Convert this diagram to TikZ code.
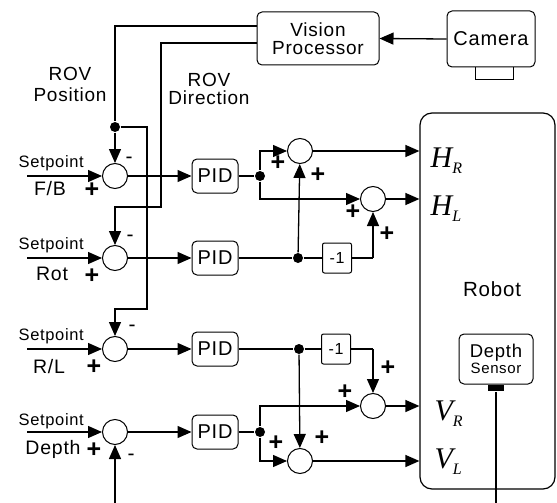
\documentclass[tikz,border=0pt]{standalone}
\usepackage{fontspec}
\setmainfont{Liberation Sans}[LetterSpace=4]
\newfontfamily\seriff{Liberation Serif}
\newfontfamily\signfont{Liberation Sans}
\usetikzlibrary{arrows.meta,calc}
\begin{document}
\begin{tikzpicture}[x=1pt,y=-1pt, line width=1.3pt,
  arr/.style={-{Triangle[length=14pt,width=12pt]}},
  sumc/.style={circle, draw, line width=1pt, minimum size=25pt, inner sep=0pt},
  rbox/.style={draw, rounded corners=5pt, line width=1pt, inner sep=0pt, align=center, font=\fontsize{19}{18}\selectfont},
  pidbox/.style={rbox, minimum width=46pt, minimum height=34pt, font=\fontsize{20}{20}\selectfont},
  dotn/.style={circle, fill, inner sep=0pt, minimum size=10pt},
  negbox/.style={draw, rounded corners=2pt, minimum width=29pt, minimum height=30pt, inner sep=0pt, line width=1pt, font=\fontsize{16}{16}\selectfont},
  sgn/.style={font=\signfont\bfseries\fontsize{25}{25}\selectfont, inner sep=0pt},
  msgn/.style={font=\signfont\fontsize{21}{21}\selectfont, inner sep=0pt},
  lbl/.style={font=\fontsize{19}{21}\selectfont, inner sep=0pt, align=center},
  sp/.style={font=\fontsize{16.5}{17}\selectfont, inner sep=0pt, anchor=base west},
  sub/.style={font=\fontsize{19.5}{20}\selectfont, inner sep=0pt, anchor=base},
  mlbl/.style={font=\seriff\itshape\fontsize{30}{30}\selectfont, inner sep=0pt, anchor=base west}
]
\useasboundingbox (0,0) rectangle (557,503);

% top blocks
\node[rbox, minimum width=122pt, minimum height=53pt] (vp) at (318,38.5) {Vision\\Processor};
\node[rbox, minimum width=88pt, minimum height=56pt, font=\fontsize{20}{20}\selectfont] (cam) at (491,39) {Camera};
\draw[line width=1pt] (475,67) -- (475,80) -- (513,80) -- (513,67);
\draw[arr] (cam.west) -- (vp.east);

% robot
\node[draw, rounded corners=12pt, line width=1.2pt, minimum width=135pt, minimum height=376pt, inner sep=0pt] (robot) at (487.5,301) {};
\node[lbl, font=\fontsize{20.5}{21}\selectfont] (robotlbl) at (492,289) {Robot};
\node[rbox, minimum width=74pt, minimum height=50pt, font=\fontsize{18.5}{16}\selectfont] (ds) at (496,359) {Depth\\{\fontsize{15}{15}\selectfont Sensor}};
\node[fill, minimum width=16pt, minimum height=6pt, inner sep=0pt, anchor=north] (dsc) at (ds.south) {};
\coordinate (dsend) at (496,503);
\draw (dsc.south) -- (dsend);

% summers
\node[sumc] (sum1) at (115,176) {};
\node[sumc] (sum2) at (115,258) {};
\node[sumc] (sum3) at (115,349) {};
\node[sumc] (sum4) at (115,432) {};

% PIDs
\node[pidbox] (pid1) at (215,176) {PID};
\node[pidbox] (pid2) at (215,258) {PID};
\node[pidbox] (pid3) at (215,349) {PID};
\node[pidbox] (pid4) at (215,432) {PID};

\foreach \i in {1,2,3,4} {\draw[arr] (sum\i) -- (pid\i);}

% setpoint inputs
\coordinate (in1) at (27,176);
\coordinate (in2) at (27,258);
\coordinate (in3) at (27,349);
\coordinate (in4) at (27,432);
\foreach \i in {1,2,3,4} {\draw[arr] (in\i) -- (sum\i);}
\node[sp] (sp1) at (18,167) {Setpoint};
\node[sp] (sp2) at (18,249) {Setpoint};
\node[sp] (sp3) at (18,340) {Setpoint};
\node[sp] (sp4) at (18,425) {Setpoint};
\node[sub] (n1) at (50,195) {F/B};
\node[sub] (n2) at (52,280) {Rot};
\node[sub] (n3) at (49,373) {R/L};
\node[sub] (n4) at (53,454) {Depth};

% feedback
\node[dotn] (p1) at (115,127) {};
\coordinate (c1) at (147,309);
\coordinate (c2) at (161,207);
\coordinate (fb4) at (115,503);
\draw ($(vp.west)+(0,-12.5)$) -| (p1);
\draw[arr] (p1) -- (sum1);
\draw[arr] (p1) -| (c1) -| (sum3);
\draw[arr] ($(vp.west)+(0,4.5)$) -| (c2) -| (sum2);
\draw[arr] (fb4) -- (sum4);
\node[lbl] (rovp) at (70,84) {ROV\\Position};
\node[lbl, font=\fontsize{19}{18}\selectfont] (rovd) at (209,89) {ROV\\Direction};

% signs left
\node[sgn] (a1) at (92,190) {+};
\node[sgn] (a2) at (92,276) {+};
\node[sgn] (a3) at (94,367) {+};
\node[sgn] (a4) at (94,450) {+};
\node[msgn] (b1) at (129,160) {-};
\node[msgn] (b2) at (130,238) {-};
\node[msgn] (b3) at (132,328) {-};
\node[msgn] (b4) at (131,457) {-};

% right summers
\node[sumc] (shr) at (300,151) {};
\node[sumc] (shl) at (373,199) {};
\node[sumc] (svr) at (373,406) {};
\node[sumc] (svl) at (300,461) {};

% dots and -1
\node[dotn] (d1) at (260,176) {};
\node[dotn] (d2) at (298,258) {};
\node[dotn] (d3) at (299,349) {};
\node[dotn] (d4) at (260,432) {};
\node[negbox] (g1) at (337,258) {-1};
\node[negbox] (g2) at (336,349) {-1};
\coordinate (k1) at (373,258);
\coordinate (k2) at (373,349);

\draw (pid1) -- (d1);
\draw (pid2) -- (d2);
\draw (pid3) -- (d3);
\draw (pid4) -- (d4);
\draw[arr] (d1) |- (shr);
\draw[arr] (d1) |- (shl);
\draw[arr] (d2) -- (shr);
\draw (d2) -- (g1);
\draw (g1) -- (k1);
\draw[arr] (k1) -- (shl);
\draw[arr] (d3) -- (svl);
\draw (d3) -- (g2);
\draw (g2) -- (k2);
\draw[arr] (k2) -- (svr);
\draw[arr] (d4) |- (svr);
\draw[arr] (d4) |- (svl);

% outputs
\draw[arr] (shr) -- (shr -| robot.west);
\draw[arr] (shl) -- (shl -| robot.west);
\draw[arr] (svr) -- (svr -| robot.west);
\draw[arr] (svl) -- (svl -| robot.west);

% signs right
\node[sgn] (e1) at (278,163) {+};
\node[sgn] (e2) at (318,175) {+};
\node[sgn] (e3) at (353,212) {+};
\node[sgn] (e4) at (387,234) {+};
\node[sgn] (e5) at (388,368) {+};
\node[sgn] (e6) at (345,392) {+};
\node[sgn] (e7) at (276,443) {+};
\node[sgn] (e8) at (322,438) {+};

% robot inputs
\node[mlbl] (hr) at (430,167) {H\raisebox{-6pt}{\fontsize{16}{16}\selectfont R}};
\node[mlbl] (hl) at (430,215) {H\raisebox{-6pt}{\fontsize{16}{16}\selectfont L}};
\node[mlbl] (vr) at (434,420) {V\raisebox{-6pt}{\fontsize{16}{16}\selectfont R}};
\node[mlbl] (vl) at (434,468) {V\raisebox{-6pt}{\fontsize{16}{16}\selectfont L}};
\end{tikzpicture}
\end{document}
